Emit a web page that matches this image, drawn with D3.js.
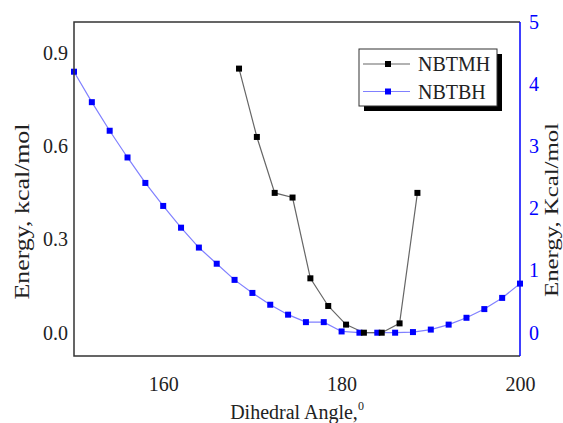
<!DOCTYPE html>
<html>
<head>
<meta charset="utf-8">
<script src="https://cdn.jsdelivr.net/npm/d3@7"></script>
<style>
  body { margin: 0; background: #fff; }
  svg { display: block; }
  svg text { font-family: "Liberation Serif", "Times New Roman", serif; }
</style>
</head>
<body>
<svg id="chart" width="563" height="423"></svg>
<script>
// NBTMH (left axis, kcal/mol)
const tmhAngle = [168.5, 170.5, 172.5, 174.5, 176.5, 178.5, 180.5, 182.5, 184.5, 186.5, 188.5]
const tmhEnergy = [0.85, 0.63, 0.45, 0.435, 0.175, 0.086, 0.026, 0.0, 0.0, 0.03, 0.45]

// NBTBH (right axis, Kcal/mol)
const tbhAngle = [150, 152, 154, 156, 158, 160, 162, 164, 166, 168, 170, 172, 174,
  176, 178, 180, 182, 184, 186, 188, 190, 192, 194, 196, 198, 200]
const tbhEnergy = [4.20, 3.71, 3.25, 2.82, 2.41, 2.04, 1.69, 1.37, 1.11, 0.85, 0.64, 0.45, 0.29,
  0.17, 0.17, 0.02, 0.0, 0.0, 0.0, 0.01, 0.05, 0.13, 0.24, 0.38, 0.56, 0.79]

const xTicks = [160, 180, 200]
const leftTicks = [0, 0.3, 0.6, 0.9]
const rightTicks = [0, 1, 2, 3, 4, 5]
const seriesNames = ['NBTMH', 'NBTBH']

const margin = { top: 22, right: 43, bottom: 67, left: 74 }
const width = 563, height = 423
const svg = d3.select('#chart')

const x = d3.scaleLinear().domain([150, 200]).range([margin.left, width - margin.right])
const yL = d3.scaleLinear().domain([-0.075, 1.0]).range([height - margin.bottom, margin.top])
const yR = d3.scaleLinear().domain([-0.375, 5]).range([height - margin.bottom, margin.top])

const BLUE = '#0000ff'
const SERIF = '"Liberation Serif", "Times New Roman", serif'

// axes (no tick marks, labels only)
const gx = svg.append('g')
  .attr('transform', 'translate(0,' + (height - margin.bottom) + ')')
  .call(d3.axisBottom(x).tickValues(xTicks).tickSize(0).tickPadding(21))
const gl = svg.append('g')
  .attr('transform', 'translate(' + margin.left + ',0)')
  .call(d3.axisLeft(yL).tickValues(leftTicks).tickSize(0).tickPadding(6).tickFormat(d3.format('.1f')))
const gr = svg.append('g')
  .attr('transform', 'translate(' + (width - margin.right) + ',0)')
  .call(d3.axisRight(yR).tickValues(rightTicks).tickSize(0).tickPadding(9).tickFormat(d3.format('d')))

;[gx, gl, gr].forEach(g => {
  g.attr('font-family', SERIF).attr('font-size', 20)
  g.select('.domain').remove()
  g.selectAll('text').attr('fill', '#222')
})
gr.selectAll('text').attr('fill', BLUE)

// series lines + markers
const line = (xs, ys, yScale) => d3.line()
  .x((d, i) => x(xs[i]))
  .y((d, i) => yScale(ys[i]))(xs)

svg.append('path')
  .attr('d', line(tbhAngle, tbhEnergy, yR))
  .attr('fill', 'none').attr('stroke', '#8080ff').attr('stroke-width', 1.2)
svg.append('path')
  .attr('d', line(tmhAngle, tmhEnergy, yL))
  .attr('fill', 'none').attr('stroke', '#666').attr('stroke-width', 1.2)

const ms = 6
svg.append('g').selectAll('rect').data(tbhAngle).join('rect')
  .attr('x', d => x(d) - ms / 2)
  .attr('y', (d, i) => yR(tbhEnergy[i]) - ms / 2)
  .attr('width', ms).attr('height', ms).attr('fill', BLUE)
svg.append('g').selectAll('rect').data(tmhAngle).join('rect')
  .attr('x', d => x(d) - ms / 2)
  .attr('y', (d, i) => yL(tmhEnergy[i]) - ms / 2)
  .attr('width', ms).attr('height', ms).attr('fill', '#000')

// frame
const x0 = x.range()[0], x1 = x.range()[1]
const y0 = yL.range()[0], y1 = yL.range()[1]
svg.append('path')
  .attr('d', `M${x1},${y1}H${x0}V${y0}H${x1}`)
  .attr('fill', 'none').attr('stroke', '#333').attr('stroke-width', 1.5)
svg.append('line')
  .attr('x1', x1).attr('x2', x1).attr('y1', y1).attr('y2', y0)
  .attr('stroke', BLUE).attr('stroke-width', 1.5)

// axis titles
svg.append('text')
  .attr('transform', 'translate(29,211.5) rotate(-90)')
  .attr('text-anchor', 'middle').attr('font-size', 20).attr('fill', '#222')
  .attr('textLength', 176).attr('lengthAdjust', 'spacingAndGlyphs')
  .text('Energy, kcal/mol')
svg.append('text')
  .attr('transform', 'translate(558,210) rotate(-90)')
  .attr('text-anchor', 'middle').attr('font-size', 19).attr('fill', '#222')
  .attr('textLength', 174).attr('lengthAdjust', 'spacingAndGlyphs')
  .text('Energy, Kcal/mol')
const xt = svg.append('text')
  .attr('x', 297).attr('y', 419)
  .attr('text-anchor', 'middle').attr('font-size', 20).attr('fill', '#222')
xt.append('tspan').text('Dihedral Angle,')
xt.append('tspan').attr('font-size', 12).attr('dy', -9).text('0')

// legend
const lg = svg.append('g').attr('transform', 'translate(359,49)')
lg.append('rect').attr('x', 5).attr('y', 5).attr('width', 138).attr('height', 57).attr('fill', '#000')
lg.append('rect').attr('width', 138).attr('height', 57).attr('fill', '#fff').attr('stroke', '#333').attr('stroke-width', 1)
const legendColors = [['#666', '#000'], ['#8080ff', BLUE]]
seriesNames.forEach((name, i) => {
  const row = lg.append('g').attr('transform', 'translate(0,' + (15 + i * 27.5) + ')')
  row.append('line').attr('x1', 4).attr('x2', 51).attr('stroke', legendColors[i][0]).attr('stroke-width', 1.2)
  row.append('rect').attr('x', 29 - ms / 2).attr('y', -ms / 2).attr('width', ms).attr('height', ms).attr('fill', legendColors[i][1])
  row.append('text').attr('x', 59).attr('y', 7).attr('font-size', 20).attr('fill', '#222').text(name)
})
</script>
</body>
</html>
